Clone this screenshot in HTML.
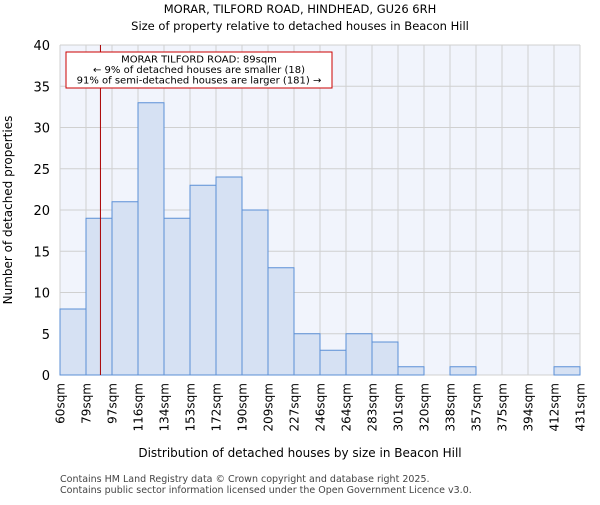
<!DOCTYPE html>
<html><head><meta charset="utf-8"><style>
body{margin:0;background:#fff;font-family:"Liberation Sans","DejaVu Sans",sans-serif}
text{font-family:"DejaVu Sans","Liberation Sans",sans-serif}
</style></head><body>
<svg id="c" width="600" height="500" xmlns="http://www.w3.org/2000/svg">
<text x="300" y="13" text-anchor="middle" font-size="11.5">MORAR, TILFORD ROAD, HINDHEAD, GU26 6RH</text>
<text x="300" y="30" text-anchor="middle" font-size="11.5">Size of property relative to detached houses in Beacon Hill</text>
<rect x="60" y="45" width="520" height="330" fill="#f1f4fc"/>
<g id="grid"></g><g id="bars"></g><g id="axes"></g>
<text x="300" y="457" text-anchor="middle" font-size="12">Distribution of detached houses by size in Beacon Hill</text>
<text transform="translate(12,210) rotate(-90)" text-anchor="middle" font-size="12">Number of detached properties</text>
<text x="60" y="482" font-size="9.5" fill="#444">Contains HM Land Registry data © Crown copyright and database right 2025.</text>
<text x="60" y="493" font-size="9.5" fill="#444">Contains public sector information licensed under the Open Government Licence v3.0.</text>
</svg>
<script>
const categories=["60sqm","79sqm","97sqm","116sqm","134sqm","153sqm","172sqm","190sqm","209sqm","227sqm","246sqm","264sqm","283sqm","301sqm","320sqm","338sqm","357sqm","375sqm","394sqm","412sqm","431sqm"];
const counts=[8,19,21,33,19,23,24,20,13,5,3,5,4,1,0,1,0,0,0,1];
const yTicks=[0,5,10,15,20,25,30,35,40];
const edgeValues=[60,79,97,116,134,153,172,190,209,227,246,264,283,301,320,338,357,375,394,412,431];
const markerValue=89;
const NS="http://www.w3.org/2000/svg";
const X0=60,X1=580,Y0=375,Y1=45,YMAX=40;
const nb=counts.length,bw=(X1-X0)/nb;
const xIdx=i=>X0+i*bw;
const y=v=>Y0-(v/YMAX)*(Y0-Y1);
function mk(t,a,p){const e=document.createElementNS(NS,t);for(const k in a)e.setAttribute(k,a[k]);p.appendChild(e);return e;}
const g=document.getElementById('grid'),b=document.getElementById('bars'),ax=document.getElementById('axes');
yTicks.forEach(v=>{
 const l=mk('line',{x1:X0,x2:X1,y1:y(v),y2:y(v),stroke:'#d0d0d0'},g);
 
 
 const t=mk('text',{x:X0-10,y:y(v)+5,'text-anchor':'end','font-size':13},ax);t.textContent=v;
 
 
});
categories.forEach((c,i)=>{
 const l=mk('line',{x1:xIdx(i),x2:xIdx(i),y1:Y1,y2:Y0,stroke:'#d0d0d0'},g);
 
 
 const t=mk('text',{transform:`translate(${xIdx(i)+4.5},${Y0+8}) rotate(-90)`,'text-anchor':'end','font-size':12},ax);t.textContent=c;
 
 
});
counts.forEach((v,i)=>{
 if(v<=0)return;
 const r=mk('rect',{x:xIdx(i),y:y(v),width:bw,height:Y0-y(v),fill:'#d6e1f3',stroke:'#5b8fd6','stroke-width':1},b);
 
 
});
let k=0;while(k<edgeValues.length-2&&edgeValues[k+1]<markerValue)k++;
const mx=xIdx(k)+(markerValue-edgeValues[k])/(edgeValues[k+1]-edgeValues[k])*bw;
const ml=mk('line',{x1:mx,x2:mx,y1:Y1,y2:Y0,stroke:'#aa0000','stroke-width':1},ax);


const box=mk('rect',{x:66,y:52,width:266,height:36,fill:'#fff',stroke:'#cc0000'},ax);


["MORAR TILFORD ROAD: 89sqm","← 9% of detached houses are smaller (18)","91% of semi-detached houses are larger (181) →"].forEach((s,i)=>{
 const t=mk('text',{x:199,y:62.5+i*10.5,'text-anchor':'middle','font-size':10},ax);t.textContent=s;
 
 
});
</script>
</body></html>
